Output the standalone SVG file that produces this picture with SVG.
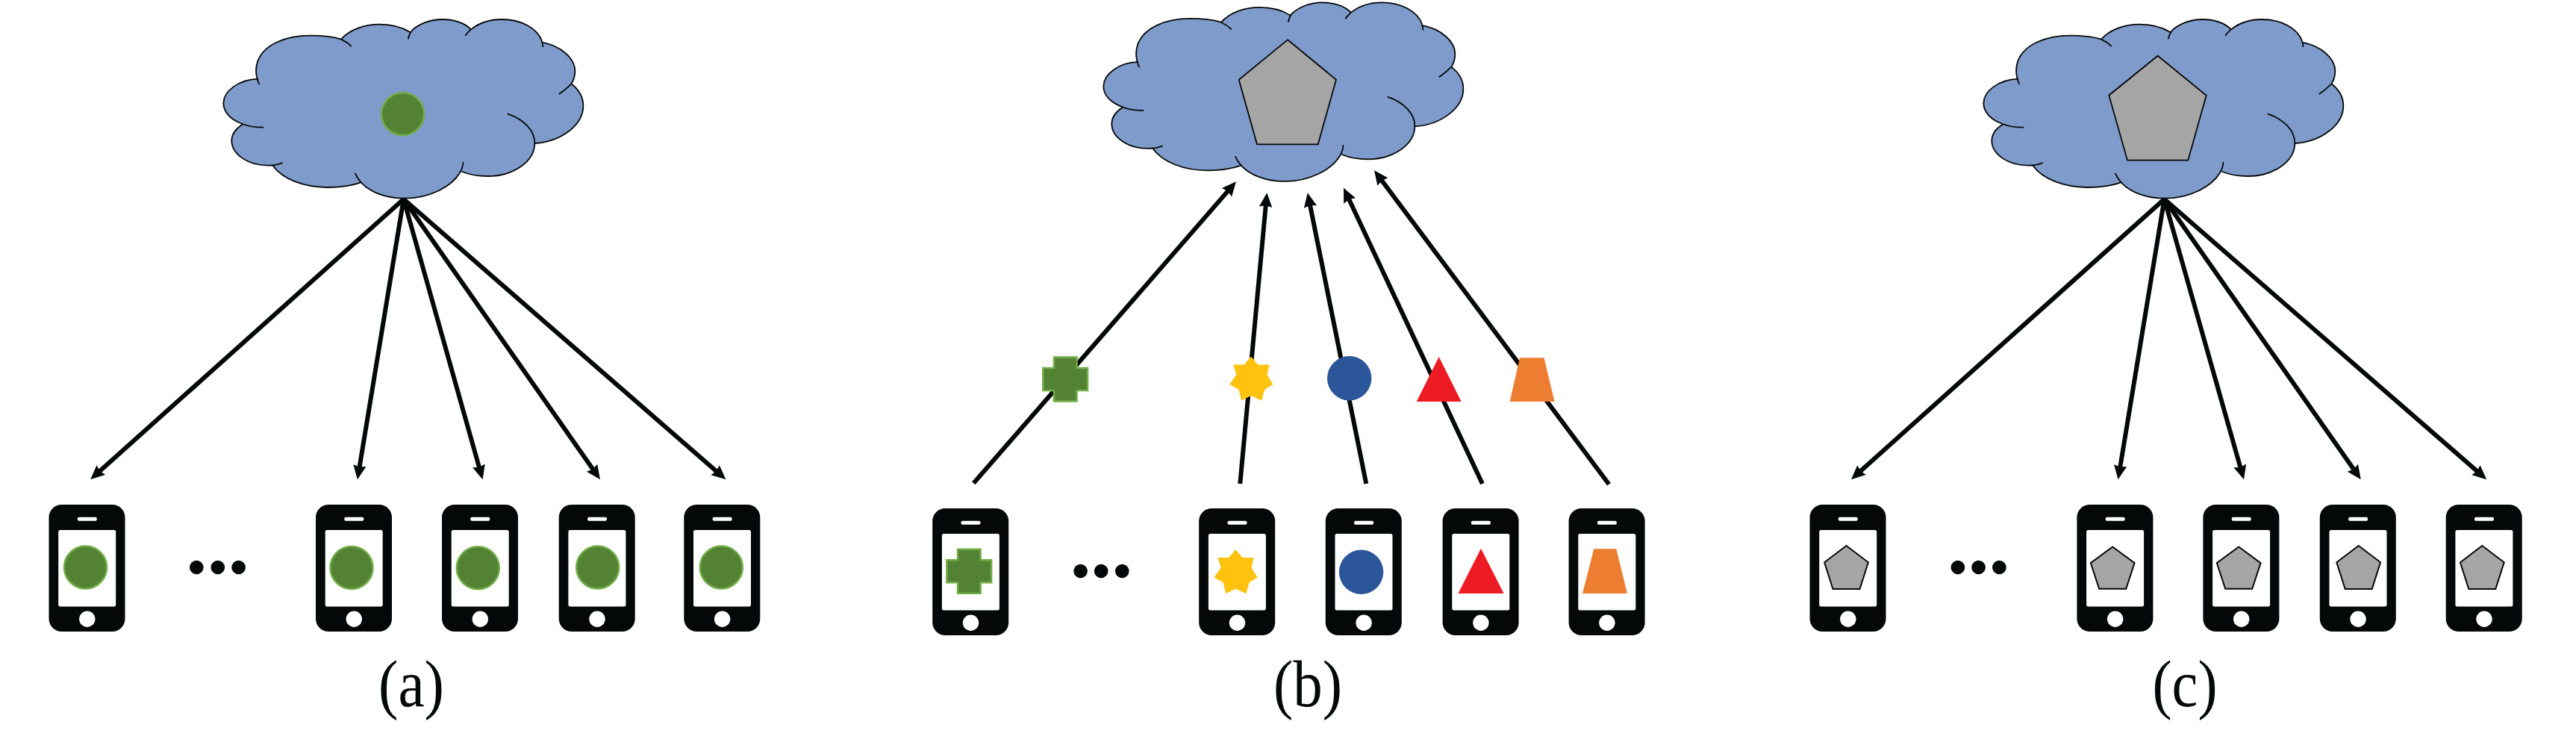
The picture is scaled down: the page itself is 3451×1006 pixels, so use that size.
<svg xmlns="http://www.w3.org/2000/svg" width="3451" height="1006" viewBox="0 0 3451 1006">
<style>
.cl-fill{fill:#7f9bcb;stroke:none}
.cl-line{fill:none;stroke:#050808;stroke-width:5.4;stroke-linecap:round}
.body{fill:#040808}
.wh{fill:#fff}
.conn{fill:none;stroke:#040808;stroke-width:6;marker-end:url(#head)}
.grn{fill:#548235;stroke:#70ad47;stroke-width:2.5}
.gry{fill:#a5a5a5;stroke:#050808;stroke-width:2;stroke-linejoin:miter}
.gryb{fill:#a5a5a5;stroke:#050808;stroke-width:1.8;stroke-linejoin:miter}
.yel{fill:#ffc20e}
.blu{fill:#2b579a}
.red{fill:#ed1c24}
.org{fill:#ed7d31}
.dot{fill:#040808}
.cap{font-family:"Liberation Serif","Times New Roman",serif;font-size:88px;fill:#040808;text-anchor:middle}
</style>
<defs>
<marker id="head" markerUnits="userSpaceOnUse" markerWidth="20" markerHeight="18" refX="7" refY="8.7" orient="auto" overflow="visible"><path d="M0,0 L19,8.7 L0,17.4 L2,8.7 Z" fill="#040808"/></marker>
<g id="cloud" transform="scale(0.33333)">
<path class="cl-fill" d="M190,317 C178,285 178,270 190,245 C215,180 300,143 400,143 C450,143 495,148 525,158 C560,118 620,98 680,98 C730,98 775,112 803,130 C840,95 885,78 930,78 C980,78 1020,92 1047,118 C1080,92 1125,78 1170,78 C1250,78 1315,115 1332,170 C1410,185 1465,235 1465,285 C1465,305 1460,322 1450,337 C1480,360 1498,392 1498,425 C1498,505 1405,570 1305,576 C1303,650 1215,708 1115,708 C1075,708 1040,702 1006,690 C970,750 880,797 780,797 C705,797 640,772 605,733 C565,747 520,753 470,753 C375,753 290,720 250,665 L232,665 C150,665 85,620 85,565 C85,540 100,518 128,500 C80,480 52,450 52,415 C52,365 115,320 190,317 Z"/>
<path class="cl-line" d="M195,337 C183,310 178,280 190,245 C215,180 300,143 400,143 C450,143 495,148 525,158 C540,165 555,175 565,185 M525,158 C560,118 620,98 680,98 C730,98 775,112 803,130 M795,155 C798,140 803,130 810,122 C840,95 885,78 930,78 C980,78 1020,92 1047,118 M1025,142 C1032,132 1040,125 1047,118 C1080,92 1125,78 1170,78 C1250,78 1315,115 1332,165 C1335,172 1336,180 1336,187 M1332,170 C1410,185 1465,235 1465,285 C1465,305 1460,322 1450,337 C1435,352 1420,365 1402,377 M1450,337 C1480,360 1498,392 1498,425 C1498,505 1405,570 1305,576 M1195,458 C1260,480 1303,525 1303,575 C1303,650 1215,708 1115,708 C1075,708 1040,702 1012,690 M1015,653 C1015,665 1010,680 1003,693 C970,750 880,797 780,797 C705,797 640,772 605,733 C595,722 587,710 582,698 M605,733 C565,747 520,753 470,753 C375,753 290,720 250,665 M288,655 C275,660 255,665 232,665 C150,665 85,620 85,565 C85,540 100,518 128,500 M212,512 C180,512 150,507 128,498 C80,480 52,450 52,415 C52,365 115,320 190,317"/>
</g>
<g id="phone">
<rect class="body" width="102" height="170" rx="17"/>
<rect class="wh" x="12.7" y="34" width="77" height="102.5" rx="2.5"/>
<rect class="wh" x="38.3" y="16.7" width="26" height="5" rx="2"/>
<circle class="wh" cx="51.3" cy="153.3" r="10.7"/>
</g>
<circle id="disc" class="grn" r="28.5"/>
<polygon id="mini" class="gry" points="0,0 29.4,22.3 18,58 -18,58 -29.4,22.3"/>
<polygon id="cross" class="grn" points="-15,-29.5 15.5,-29.5 15.5,-15 30,-15 30,15 15.5,15 15.5,29.5 -15,29.5 -15,15 -29.7,15 -29.7,-15 -15,-15"/>
<polygon id="star" class="yel" points="0,-29.3 9.2,-18.3 24.5,-18.3 21.4,-5 29.4,8.3 18.4,15 14.1,30 0,23.3 -12.9,30 -16.5,15 -28.8,8.3 -19.6,-5 -23.9,-18.3 -9.2,-18.3"/>
</defs>
<rect width="3451" height="1006" fill="#fff"/>

<g id="cloud-a"><use href="#cloud" transform="translate(282,0)"/><circle class="grn" cx="539.6" cy="152.7" r="28.5"/></g>
<g id="cloud-b"><use href="#cloud" transform="translate(1461,-22.7)"/><polygon class="gryb" points="1725,53.3 1790,106.7 1765.7,193.3 1684,193.3 1659.7,106.7"/></g>
<g id="cloud-c"><use href="#cloud" transform="translate(2640,0)"/><polygon class="gryb" points="2890.7,74.7 2955.7,127.7 2931.3,214.7 2850,214.7 2825.3,127.7"/></g>

<g id="connectors">
<g id="connectors-a">
<line class="conn" x1="540.7" y1="266.7" x2="130.1" y2="634.3"/>
<line class="conn" x1="540.7" y1="266.7" x2="480.8" y2="630.5"/>
<line class="conn" x1="540.7" y1="266.7" x2="643.3" y2="630.7"/>
<line class="conn" x1="540.7" y1="266.7" x2="797.1" y2="632.5"/>
<line class="conn" x1="540.7" y1="266.7" x2="963.4" y2="634.4"/>
</g>
<g id="connectors-b">
<line class="conn" x1="1304.3" y1="647.3" x2="1648.1" y2="252.4"/>
<line class="conn" x1="1661.3" y1="648" x2="1696.2" y2="270.3"/>
<line class="conn" x1="1830.3" y1="648" x2="1754.1" y2="270.1"/>
<line class="conn" x1="1985.9" y1="648" x2="1805.1" y2="262.6"/>
<line class="conn" x1="2155.5" y1="648.7" x2="1848.2" y2="237.9"/>
</g>
<g id="connectors-c">
<line class="conn" x1="2899.5" y1="266.7" x2="2488.9" y2="634.3"/>
<line class="conn" x1="2899.5" y1="266.7" x2="2839.5" y2="630.5"/>
<line class="conn" x1="2899.5" y1="266.7" x2="3002.7" y2="630.7"/>
<line class="conn" x1="2899.5" y1="266.7" x2="3155.9" y2="632.5"/>
<line class="conn" x1="2899.5" y1="266.7" x2="3322.2" y2="634.4"/>
</g>
</g>

<g id="token-b1"><use href="#cross" transform="translate(1427,508)"/></g>
<g id="token-b2"><use href="#star" transform="translate(1676,506.7)"/></g>
<g id="token-b3"><circle class="blu" cx="1807.7" cy="506.7" r="29.7"/></g>
<g id="token-b4"><polygon class="red" points="1927.7,478 1957.7,538 1897.7,538"/></g>
<g id="token-b5"><polygon class="org" points="2036,479.3 2068.5,479.3 2082.6,538 2022.6,538"/></g>

<g id="phone-a1" transform="translate(65.5,676)"><use href="#phone"/><use href="#disc" transform="translate(49,84)"/></g>
<g id="phone-a2" transform="translate(423,676)"><use href="#phone"/><use href="#disc" transform="translate(48,84.5)"/></g>
<g id="phone-a3" transform="translate(592,676)"><use href="#phone"/><use href="#disc" transform="translate(48.3,84.7)"/></g>
<g id="phone-a4" transform="translate(748.7,676)"><use href="#phone"/><use href="#disc" transform="translate(52,84)"/></g>
<g id="phone-a5" transform="translate(916.3,676)"><use href="#phone"/><use href="#disc" transform="translate(50,84)"/></g>

<g id="phone-b1" transform="translate(1249.2,681)"><use href="#phone"/><use href="#cross" transform="translate(48.9,84.2)"/></g>
<g id="phone-b2" transform="translate(1606.2,681)"><use href="#phone"/><use href="#star" transform="translate(49,84.3)"/></g>
<g id="phone-b3" transform="translate(1775.8,681)"><use href="#phone"/><circle class="blu" cx="47.8" cy="85.3" r="29.7"/></g>
<g id="phone-b4" transform="translate(1932.6,681)"><use href="#phone"/><polygon class="red" points="51.4,53.7 82,114 20.8,114"/></g>
<g id="phone-b5" transform="translate(2101.6,681)"><use href="#phone"/><polygon class="org" points="33.7,54.3 63.7,54.3 78.4,114 18.4,114"/></g>

<g id="phone-c1" transform="translate(2424.5,676)"><use href="#phone"/><use href="#mini" transform="translate(49,55)"/></g>
<g id="phone-c2" transform="translate(2782.4,676)"><use href="#phone"/><use href="#mini" transform="translate(47.8,56.5) scale(1,.97)"/></g>
<g id="phone-c3" transform="translate(2951.4,676)"><use href="#phone"/><use href="#mini" transform="translate(47.8,56.5) scale(1,.97)"/></g>
<g id="phone-c4" transform="translate(3107.8,676)"><use href="#phone"/><use href="#mini" transform="translate(51.9,55)"/></g>
<g id="phone-c5" transform="translate(3276.7,676)"><use href="#phone"/><use href="#mini" transform="translate(48.6,55)"/></g>

<g id="dots-a"><circle class="dot" cx="263.3" cy="760" r="9.3"/><circle class="dot" cx="291.8" cy="760" r="9.3"/><circle class="dot" cx="319.6" cy="760" r="9.3"/></g>
<g id="dots-b"><circle class="dot" cx="1447.6" cy="765" r="9.3"/><circle class="dot" cx="1475.2" cy="765" r="9.3"/><circle class="dot" cx="1503.3" cy="765" r="9.3"/></g>
<g id="dots-c"><circle class="dot" cx="2622.9" cy="760" r="9.3"/><circle class="dot" cx="2650.6" cy="760" r="9.3"/><circle class="dot" cx="2678.4" cy="760" r="9.3"/></g>

<text class="cap" x="551" y="946" textLength="88" lengthAdjust="spacingAndGlyphs">(a)</text>
<text class="cap" x="1752" y="946" textLength="92" lengthAdjust="spacingAndGlyphs">(b)</text>
<text class="cap" x="2927" y="946" textLength="87" lengthAdjust="spacingAndGlyphs">(c)</text>
</svg>
